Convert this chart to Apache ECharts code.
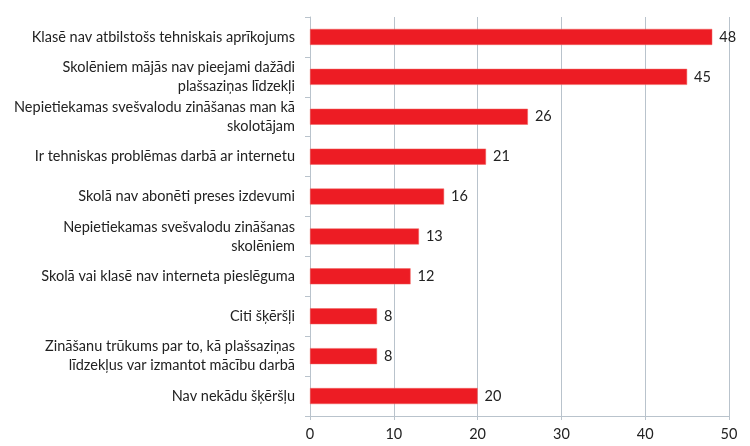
<!DOCTYPE html>
<html>
<head>
<meta charset="utf-8">
<script src="https://cdn.jsdelivr.net/npm/echarts@6/dist/echarts.min.js"></script>
<style>
html, body { margin: 0; padding: 0; background: #fff; }
#chart { width: 750px; height: 446px; }
</style>
</head>
<body>
<div id="chart"></div>
<script>
var categories = [
	'Klasē nav atbilstošs tehniskais aprīkojums',
	'Skolēniem mājās nav pieejami dažādi\nplašsaziņas līdzekļi',
	'Nepietiekamas svešvalodu zināšanas man kā\nskolotājam',
	'Ir tehniskas problēmas darbā ar internetu',
	'Skolā nav abonēti preses izdevumi',
	'Nepietiekamas svešvalodu zināšanas\nskolēniem',
	'Skolā vai klasē nav interneta pieslēguma',
	'Citi šķēršļi',
	'Zināšanu trūkums par to, kā plašsaziņas\nlīdzekļus var izmantot mācību darbā',
	'Nav nekādu šķēršļu'
];
var values = [48, 45, 26, 21, 16, 13, 12, 8, 8, 20];
var xTicks = [0, 10, 20, 30, 40, 50];

var chart = echarts.init(document.getElementById('chart'));
var font = 'Lato, "Open Sans", sans-serif';
var option = {
	animation: false,
	grid: {
		left: 310,
		right: 21,
		top: 17,
		bottom: 30,
		containLabel: false
	},
	xAxis: {
		type: 'value',
		min: xTicks[0],
		max: xTicks[xTicks.length - 1],
		interval: 10,
		axisLine: { show: true, lineStyle: { color: '#b9c3cc' } },
		axisTick: { show: true, length: 4, lineStyle: { color: '#b9c3cc' } },
		axisLabel: { color: '#222', fontSize: 14.5, fontFamily: font, margin: 11 },
		splitLine: { show: true, lineStyle: { color: '#b9c3cc', width: 1 } }
	},
	yAxis: {
		type: 'category',
		inverse: true,
		data: categories,
		axisLine: { show: true, lineStyle: { color: '#b9c3cc' } },
		axisTick: { show: true, length: 5, lineStyle: { color: '#b9c3cc' } },
		axisLabel: {
			color: '#222',
			fontSize: 14.5,
			fontFamily: font,
			margin: 15,
			lineHeight: 19,
			align: 'right'
		}
	},
	series: [{
		type: 'bar',
		data: values,
		barWidth: 16,
		itemStyle: { color: '#ed1c24', borderColor: '#f0625f', borderWidth: 0.5 },
		label: {
			show: true,
			position: 'right',
			distance: 7,
			color: '#222',
			fontSize: 14.5,
			fontFamily: font
		}
	}]
};
chart.setOption(option);
window.addEventListener('resize', function() {
	chart.resize();
});
</script>
</body>
</html>
